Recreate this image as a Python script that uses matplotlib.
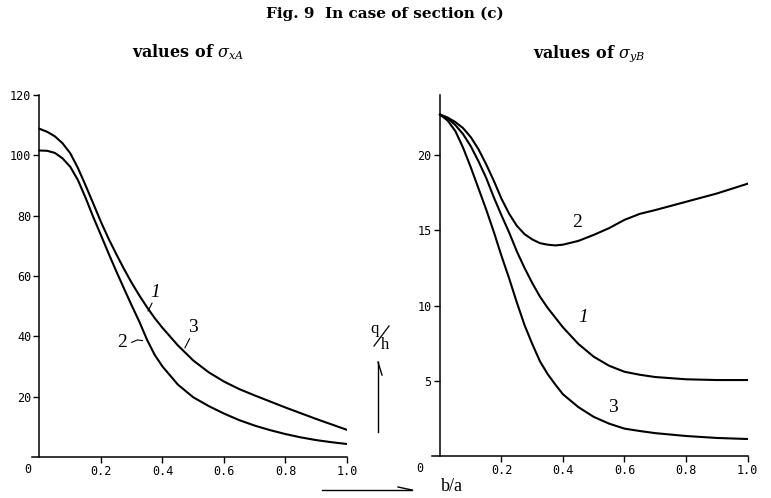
import numpy as np
import matplotlib.pyplot as plt

plt.rcParams['mathtext.fontset'] = 'dejavuserif'

# data (b/a on x)
ba = [0, 0.025, 0.05, 0.075, 0.1, 0.125, 0.15, 0.175, 0.2, 0.225, 0.25, 0.275, 0.3, 0.325,
      0.35, 0.375, 0.4, 0.45, 0.5, 0.55, 0.6, 0.65, 0.7, 0.75, 0.8, 0.85, 0.9, 0.95, 1.0]
# sigma_xA, curves 1 and 3 coincide
sxa_13 = [108.8, 107.8, 106.3, 104.0, 100.7, 95.8, 90.0, 84.0, 77.9, 72.3, 67.2, 62.3, 57.7, 53.5,
          49.6, 46.0, 42.8, 37.0, 32.0, 28.1, 25.0, 22.5, 20.4, 18.4, 16.4, 14.5, 12.6, 10.8, 9.0]
sxa_2 = [101.6, 101.5, 100.8, 99.0, 96.2, 91.8, 85.9, 79.5, 73.5, 67.4, 61.5, 55.8, 50.2, 44.8,
         38.8, 33.8, 30.0, 24.0, 19.8, 16.9, 14.4, 12.2, 10.4, 8.9, 7.6, 6.5, 5.6, 4.9, 4.3]

ba_r = [0, 0.025, 0.05, 0.075, 0.1, 0.125, 0.15, 0.175, 0.2, 0.225, 0.25, 0.275, 0.3, 0.325,
        0.35, 0.375, 0.4, 0.45, 0.5, 0.55, 0.6, 0.65, 0.7, 0.8, 0.9, 1.0]
syb_1 = [22.7, 22.45, 22.0, 21.4, 20.6, 19.6, 18.5, 17.2, 16.0, 14.85, 13.6, 12.5, 11.5, 10.6,
         9.85, 9.2, 8.55, 7.45, 6.6, 6.0, 5.6, 5.4, 5.25, 5.1, 5.05, 5.05]
syb_2 = [22.7, 22.5, 22.2, 21.8, 21.2, 20.4, 19.4, 18.3, 17.1, 16.1, 15.3, 14.75, 14.4, 14.15,
         14.05, 14.0, 14.05, 14.3, 14.7, 15.15, 15.7, 16.1, 16.35, 16.9, 17.45, 18.1]
syb_3 = [22.7, 22.3, 21.6, 20.5, 19.2, 17.8, 16.4, 14.9, 13.3, 11.8, 10.2, 8.7, 7.45, 6.3,
         5.45, 4.75, 4.1, 3.25, 2.6, 2.15, 1.82, 1.66, 1.52, 1.33, 1.2, 1.13]

xticks = [0.2, 0.4, 0.6, 0.8, 1.0]
xlabels = ['0.2', '0.4', '0.6', '0.8', '1.0']
yticks_l = [20, 40, 60, 80, 100, 120]
yticks_r = [5, 10, 15, 20]

W, H = 771, 498
fig = plt.figure(figsize=(W/100, H/100), dpi=100)

def px(x0, y0, w, h):
    return [x0/W, 1 - (y0 + h)/H, w/W, h/H]

ax1 = fig.add_axes(px(31.8, 95, 315.2, 362))
ax2 = fig.add_axes(px(432.3, 95, 315.2, 361))

mono = 'DejaVu Sans Mono'
serif = 'Liberation Serif'
tserif = 'DejaVu Serif'
lw = 1.5

for ax in (ax1, ax2):
    ax.spines['top'].set_visible(False)
    ax.spines['right'].set_visible(False)
    ax.spines['left'].set_position(('data', 0))
    ax.spines['left'].set_linewidth(1.1)
    ax.spines['bottom'].set_linewidth(1.1)
    ax.set_xlim(-0.025, 1.0)
    ax.set_xticks(xticks)
    ax.set_xticklabels(xlabels, fontfamily=mono, fontsize=8.5)
    ax.tick_params(direction='out', length=4, width=1, pad=2)

ax1.plot(ba, sxa_13, color='black', lw=lw)
ax1.plot(ba, sxa_2, color='black', lw=lw)
ax1.set_ylim(0, 120)
ax1.set_yticks(yticks_l)
ax1.set_yticklabels([str(v) for v in yticks_l], fontfamily=mono, fontsize=8.5)
ax1.text(-0.037, -4, '0', fontfamily=mono, fontsize=8.5, ha='center', va='center')

ax2.plot(ba_r, syb_2, color='black', lw=lw)
ax2.plot(ba_r, syb_1, color='black', lw=lw)
ax2.plot(ba_r, syb_3, color='black', lw=lw)
ax2.set_ylim(0, 24)
ax2.set_yticks(yticks_r)
ax2.set_yticklabels([str(v) for v in yticks_r], fontfamily=mono, fontsize=8.5)
ax2.text(-0.065, -0.8, '0', fontfamily=mono, fontsize=8.5, ha='center', va='center')

# curve labels, left
ax1.text(0.376, 54.4, '1', fontfamily=serif, fontsize=14, style='italic', ha='center', va='center')
ax1.plot([0.366, 0.353], [51, 48.4], color='black', lw=0.8)
ax1.text(0.499, 42.8, '3', fontfamily=serif, fontsize=14, ha='center', va='center')
ax1.plot([0.488, 0.473], [39.2, 36.2], color='black', lw=0.8)
ax1.text(0.27, 37.8, '2', fontfamily=serif, fontsize=14, ha='center', va='center')
ax1.plot([0.300, 0.318, 0.335], [38.0, 38.8, 38.6], color='black', lw=0.8)

# curve labels, right
ax2.text(0.445, 15.5, '2', fontfamily=serif, fontsize=14, ha='center', va='center')
ax2.text(0.465, 9.2, '1', fontfamily=serif, fontsize=14, style='italic', ha='center', va='center')
ax2.text(0.563, 3.2, '3', fontfamily=serif, fontsize=14, ha='center', va='center')

# titles
fig.text(385/W, 1 - 18/H, 'Fig. 9  In case of section (c)', fontfamily=tserif,
         fontweight='bold', fontsize=11, ha='center', va='baseline')
fig.text(188/W, 1 - 57/H, r'values of $\sigma_{xA}$', fontfamily=tserif,
         fontweight='bold', fontsize=11.5, ha='center', va='baseline')
fig.text(589/W, 1 - 57/H, r'values of $\sigma_{yB}$', fontfamily=tserif,
         fontweight='bold', fontsize=11.5, ha='center', va='baseline')

# q/h (q over h with slash) and arrow up
fig.text(375/W, 1 - 329/H, 'q', fontfamily=serif, fontsize=12, ha='center', va='center')
fig.text(385/W, 1 - 345/H, 'h', fontfamily=serif, fontsize=12, ha='center', va='center')
fig.add_artist(plt.Line2D([374/W, 389/W], [1 - 346/H, 1 - 326/H], color='black', lw=0.9))
fig.add_artist(plt.Line2D([378/W, 378/W], [1 - 432/H, 1 - 362/H], color='black', lw=1))
fig.add_artist(plt.Line2D([378/W, 382/W], [1 - 362/H, 1 - 375/H], color='black', lw=1))

# b/a with arrow right
fig.add_artist(plt.Line2D([322/W, 412/W], [1 - 490/H, 1 - 490/H], color='black', lw=1))
fig.add_artist(plt.Line2D([412/W, 398/W], [1 - 490/H, 1 - 487/H], color='black', lw=1))
fig.text(452/W, 1 - 486/H, 'b/a', fontfamily=serif, fontsize=13, ha='center', va='center')

fig.savefig('out.png', dpi=100)
